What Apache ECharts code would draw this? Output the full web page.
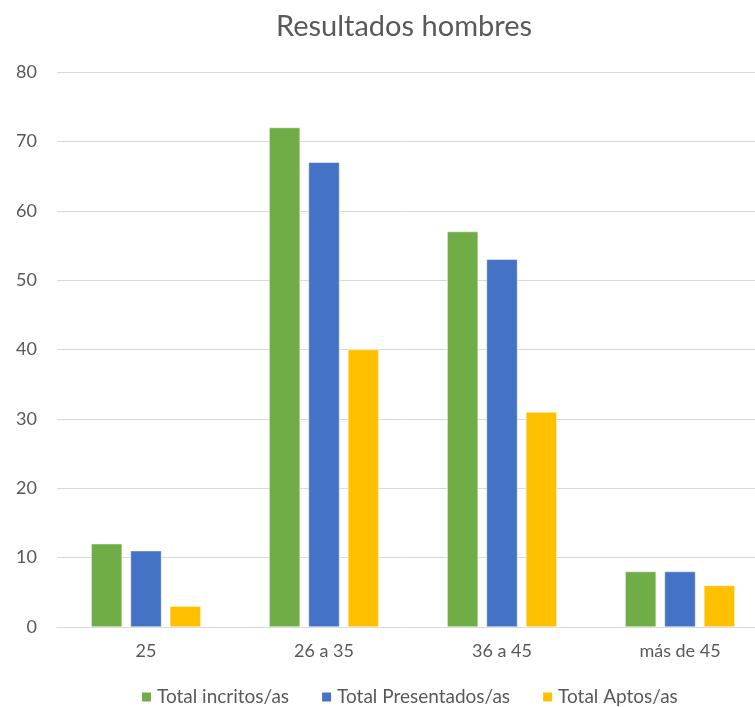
<!DOCTYPE html>
<html>
<head>
<meta charset="utf-8">
<script src="https://cdn.jsdelivr.net/npm/echarts@6/dist/echarts.min.js"></script>
<style>
    html, body { margin: 0; padding: 0; background: #fff; }
    #chart { width: 755px; height: 707px; }
</style>
</head>
<body>
<div id="chart"></div>
<script>
var categories = ["25", "26 a 35", "36 a 45", "más de 45"];
var inscritos = [12, 72, 57, 8];
var presentados = [11, 67, 53, 8];
var aptos = [3, 40, 31, 6];
var seriesNames = ["Total incritos/as", "Total Presentados/as", "Total Aptos/as"];

(function() {
    let myChart = echarts.init(document.getElementById("chart"));
    let font = "Lato, 'Open Sans', sans-serif";
    let option = {
        animation: false,
        color: ["#70AD47", "#4472C4", "#FFC000"],
        title: {
            text: "Resultados hombres",
            left: 399,
            textAlign: "center",
            top: 7,
            textStyle: {
                color: "#595959",
                fontSize: 29,
                fontWeight: "normal",
                fontFamily: font
            }
        },
        legend: {
            top: 681,
            left: 135,
            itemWidth: 11,
            itemHeight: 11,
            itemGap: 31,
            icon: "rect",
            textStyle: {
                color: "#595959",
                fontSize: 19,
                lineHeight: 22,
                fontFamily: font
            }
        },
        grid: {
            left: 57,
            top: 72,
            right: -14,
            height: 555,
            containLabel: false,
            outerBoundsMode: "none"
        },
        xAxis: {
            type: "category",
            data: categories,
            axisTick: { show: false },
            axisLine: {
                lineStyle: { color: "#D9D9D9", width: 1 }
            },
            axisLabel: {
                color: "#595959",
                fontSize: 18,
                fontFamily: font,
                margin: 15
            }
        },
        yAxis: {
            type: "value",
            min: 0,
            max: 80,
            interval: 10,
            axisLine: { show: false },
            axisTick: { show: false },
            axisLabel: {
                color: "#595959",
                fontSize: 18,
                fontFamily: font,
                margin: 20
            },
            splitLine: {
                lineStyle: { color: "#D9D9D9", width: 1 }
            }
        },
        series: [{
            name: seriesNames[0],
            type: "bar",
            data: inscritos,
            barWidth: 31,
            barGap: "27%",
            itemStyle: { borderColor: "#fff", borderWidth: 0.5 }
        }, {
            name: seriesNames[1],
            type: "bar",
            data: presentados,
            barWidth: 31,
            barGap: "27%",
            itemStyle: { borderColor: "#fff", borderWidth: 0.5 }
        }, {
            name: seriesNames[2],
            type: "bar",
            data: aptos,
            barWidth: 31,
            barGap: "27%",
            itemStyle: { borderColor: "#fff", borderWidth: 0.5 }
        }]
    };
    myChart.setOption(option);
    window.addEventListener("resize", function() {
        myChart.resize();
    });
})();
</script>
</body>
</html>
